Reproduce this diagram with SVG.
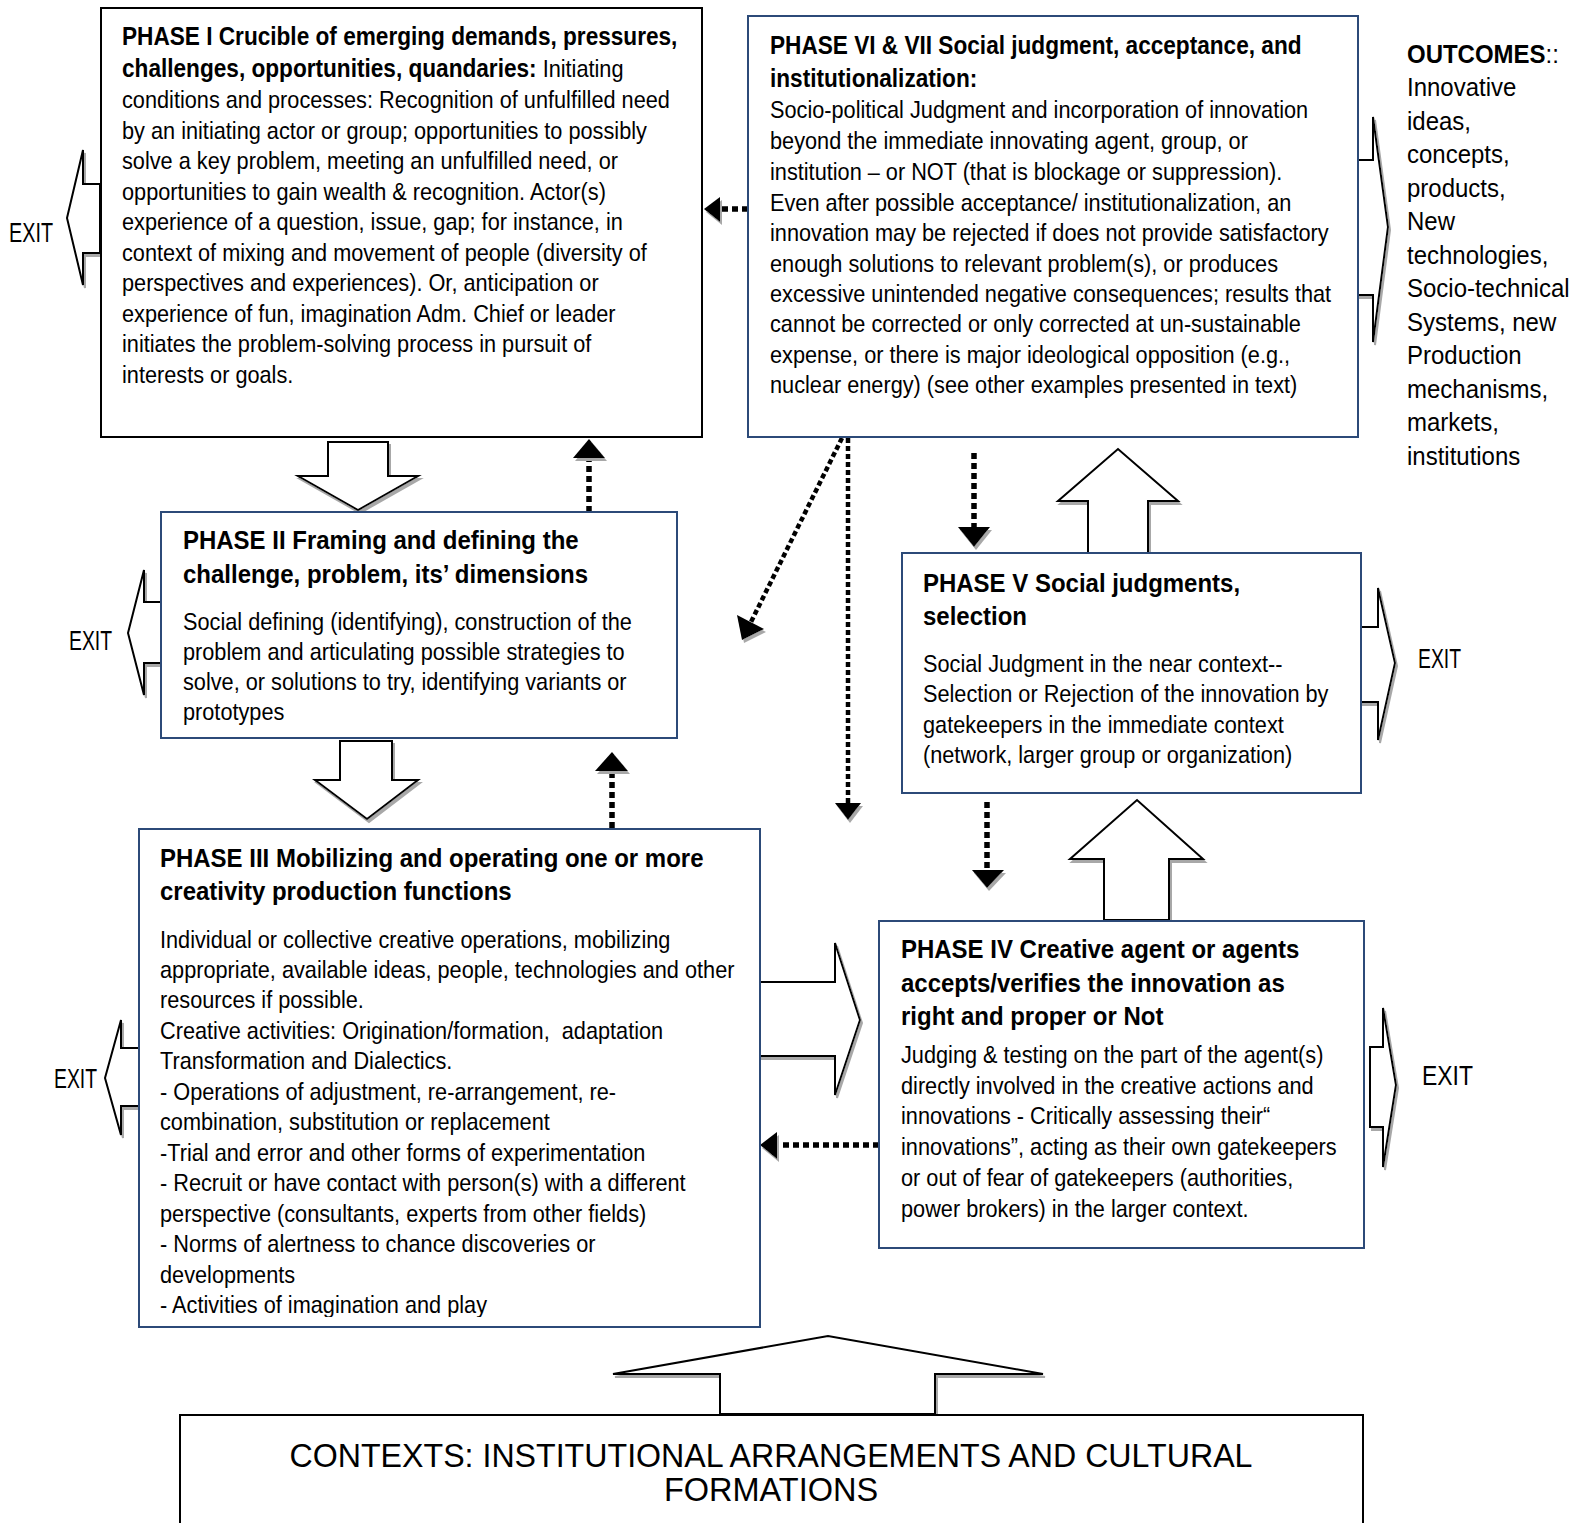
<svg xmlns="http://www.w3.org/2000/svg" width="1585" height="1523" viewBox="0 0 1585 1523">
<style>
.t{font-family:"Liberation Sans",Arial,sans-serif;font-size:24px;fill:#000;white-space:pre}
.h1{font-size:25px;font-weight:bold}
.h2{font-size:26.5px;font-weight:bold}
.o{font-size:26.5px}
.ex{font-family:"Liberation Sans",Arial,sans-serif;font-size:27px;fill:#000}
.ctx{font-family:"Liberation Sans",Arial,sans-serif;font-size:32.5px;fill:#000}
.box{fill:#fff;stroke:#2c4a78;stroke-width:2}
.bbox{fill:#fff;stroke:#000;stroke-width:2}
.blk{fill:#fff;stroke:#000;stroke-width:2;stroke-linejoin:miter;filter:url(#sh)}
.dot{fill:none;stroke:#000;stroke-width:5.5;stroke-dasharray:6 4}
.dot2{fill:none;stroke:#000;stroke-width:4.5;stroke-dasharray:5 3}
.hd{fill:#000;filter:url(#sh)}
</style>
<defs>
<filter id="sh" x="-20%" y="-20%" width="140%" height="140%">
<feDropShadow dx="2" dy="3" stdDeviation="0.6" flood-color="#a8a8a8" flood-opacity="1"/>
</filter>
<clipPath id="c3"><rect x="138" y="829" width="622" height="488"/></clipPath>
</defs>
<rect width="1585" height="1523" fill="#fff"/>

<g id="connectors">
<polygon class="blk" points="100,184 83,184 83,150 67,218 83,285 83,253 100,253"/>
<polygon class="blk" points="161,602 144,602 144,570 128,633 144,695 144,663 161,663"/>
<polygon class="blk" points="139,1048 121,1048 121,1020 105,1078 121,1135 121,1106 139,1106"/>
<polygon class="blk" points="1361,627 1378,627 1378,588 1395,663 1378,740 1378,702 1361,702"/>
<polygon class="blk" points="1370,1047 1383,1047 1383,1008 1396,1085 1383,1167 1383,1127 1370,1127"/>
<polygon class="blk" points="1358,160 1373,160 1373,117 1388,227 1373,342 1373,295 1358,295"/>
<polygon class="blk" points="328,442 388,442 388,476 418,476 358,510 298,476 328,476"/>
<polygon class="blk" points="340,741 392,741 392,780 418,780 367,819 315,780 340,780"/>
<polygon class="blk" points="1088,553 1088,501 1058,501 1118,449 1178,501 1148,501 1148,553"/>
<polygon class="blk" points="1104,920 1104,859 1070,859 1137,800 1203,859 1169,859 1169,920"/>
<polygon class="blk" points="760,982 835,982 835,943 860,1020 835,1095 835,1056 760,1056"/>
<polygon class="blk" points="720,1414 720,1374 613,1374 828,1336 1043,1374 935,1374 935,1414"/>
<line class="dot" x1="589" y1="512" x2="589" y2="458"/>
<polygon class="hd" points="573,458 605,458 589,439"/>
<line class="dot" x1="612" y1="828" x2="612" y2="771"/>
<polygon class="hd" points="595,771 628,771 612,752"/>
<line class="dot" x1="748" y1="209" x2="720" y2="209"/>
<polygon class="hd" points="720,197 720,222 704,209"/>
<line class="dot2" x1="842" y1="438" x2="751" y2="622"/>
<polygon class="hd" points="764,629 737,615 742,640"/>
<line class="dot2" x1="848" y1="438" x2="848" y2="803"/>
<polygon class="hd" points="835,803 861,803 848,820"/>
<line class="dot" x1="974" y1="453" x2="974" y2="527"/>
<polygon class="hd" points="958,527 990,527 974,547"/>
<line class="dot" x1="987" y1="802" x2="987" y2="870"/>
<polygon class="hd" points="972,870 1004,870 987,888"/>
<line class="dot" x1="879" y1="1145" x2="777" y2="1145"/>
<polygon class="hd" points="777,1132 777,1159 760,1145"/>
</g>

<g id="phase1">
<rect class="bbox" x="101" y="8" width="601" height="429"/>
<g transform="translate(122 0) scale(0.905 1)">
<text class="t h1" x="0" y="45">PHASE I Crucible of emerging demands, pressures,</text>
<text class="t" x="0" y="77"><tspan font-size="25" font-weight="bold">challenges, opportunities, quandaries:</tspan> Initiating</text>
<text class="t" x="0" y="108.5">conditions and processes: Recognition of unfulfilled need</text>
<text class="t" x="0" y="139">by an initiating actor or group; opportunities to possibly</text>
<text class="t" x="0" y="169.5">solve a key problem, meeting an unfulfilled need, or</text>
<text class="t" x="0" y="200">opportunities to gain wealth &amp; recognition. Actor(s)</text>
<text class="t" x="0" y="230.5">experience of a question, issue, gap; for instance, in</text>
<text class="t" x="0" y="261">context of mixing and movement of people (diversity of</text>
<text class="t" x="0" y="291.5">perspectives and experiences). Or, anticipation or</text>
<text class="t" x="0" y="322">experience of fun, imagination Adm. Chief or leader</text>
<text class="t" x="0" y="352.5">initiates the problem-solving process in pursuit of</text>
<text class="t" x="0" y="383">interests or goals.</text>
</g>
<text class="ex" x="9" y="242" textLength="44" lengthAdjust="spacingAndGlyphs">EXIT</text>
</g>

<g id="phase67">
<rect class="box" x="748" y="16" width="610" height="421"/>
<g transform="translate(770 0) scale(0.905 1)">
<text class="t h1" x="0" y="54">PHASE VI &amp; VII Social judgment, acceptance, and</text>
<text class="t h1" x="0" y="87">institutionalization:</text>
<text class="t" x="0" y="118">Socio-political Judgment and incorporation of innovation</text>
<text class="t" x="0" y="149">beyond the immediate innovating agent, group, or</text>
<text class="t" x="0" y="180">institution – or NOT (that is blockage or suppression).</text>
<text class="t" x="0" y="211">Even after possible acceptance/ institutionalization, an</text>
<text class="t" x="0" y="241.5">innovation may be rejected if does not provide satisfactory</text>
<text class="t" x="0" y="272">enough solutions to relevant problem(s), or produces</text>
<text class="t" x="0" y="302">excessive unintended negative consequences; results that</text>
<text class="t" x="0" y="332.5">cannot be corrected or only corrected at un-sustainable</text>
<text class="t" x="0" y="363">expense, or there is major ideological opposition (e.g.,</text>
<text class="t" x="0" y="393">nuclear energy) (see other examples presented in text)</text>
</g>
</g>

<g id="outcomes">
<g transform="translate(1407 0) scale(0.905 1)">
<text class="t o" x="0" y="63"><tspan font-weight="bold">OUTCOMES</tspan>::</text>
<text class="t o" x="0" y="96.5">Innovative</text>
<text class="t o" x="0" y="130">ideas,</text>
<text class="t o" x="0" y="163.5">concepts,</text>
<text class="t o" x="0" y="197">products,</text>
<text class="t o" x="0" y="230.5">New</text>
<text class="t o" x="0" y="264">technologies,</text>
<text class="t o" x="0" y="297.5">Socio-technical</text>
<text class="t o" x="0" y="331">Systems, new</text>
<text class="t o" x="0" y="364.5">Production</text>
<text class="t o" x="0" y="398">mechanisms,</text>
<text class="t o" x="0" y="431.5">markets,</text>
<text class="t o" x="0" y="465">institutions</text>
</g>
</g>

<g id="phase2">
<rect class="box" x="161" y="512" width="516" height="226"/>
<g transform="translate(183 0) scale(0.905 1)">
<text class="t h2" x="0" y="549">PHASE II Framing and defining the</text>
<text class="t h2" x="0" y="583">challenge, problem, its’ dimensions</text>
<text class="t" x="0" y="630">Social defining (identifying), construction of the</text>
<text class="t" x="0" y="660">problem and articulating possible strategies to</text>
<text class="t" x="0" y="690">solve, or solutions to try, identifying variants or</text>
<text class="t" x="0" y="720">prototypes</text>
</g>
<text class="ex" x="69" y="650" textLength="43" lengthAdjust="spacingAndGlyphs">EXIT</text>
</g>

<g id="phase5">
<rect class="box" x="902" y="553" width="459" height="240"/>
<g transform="translate(923 0) scale(0.905 1)">
<text class="t h2" x="0" y="592">PHASE V Social judgments,</text>
<text class="t h2" x="0" y="625">selection</text>
<text class="t" x="0" y="672">Social Judgment in the near context--</text>
<text class="t" x="0" y="702.5">Selection or Rejection of the innovation by</text>
<text class="t" x="0" y="733">gatekeepers in the immediate context</text>
<text class="t" x="0" y="763">(network, larger group or organization)</text>
</g>
<text class="ex" x="1418" y="668" textLength="43" lengthAdjust="spacingAndGlyphs">EXIT</text>
</g>

<g id="phase3">
<rect class="box" x="139" y="829" width="621" height="498"/>
<g clip-path="url(#c3)">
<g transform="translate(160 0) scale(0.905 1)">
<text class="t h2" x="0" y="867">PHASE III Mobilizing and operating one or more</text>
<text class="t h2" x="0" y="900">creativity production functions</text>
<text class="t" x="0" y="948">Individual or collective creative operations, mobilizing</text>
<text class="t" x="0" y="978">appropriate, available ideas, people, technologies and other</text>
<text class="t" x="0" y="1008.5">resources if possible.</text>
<text class="t" x="0" y="1039">Creative activities: Origination/formation,  adaptation</text>
<text class="t" x="0" y="1069.5">Transformation and Dialectics.</text>
<text class="t" x="0" y="1100">- Operations of adjustment, re-arrangement, re-</text>
<text class="t" x="0" y="1130.5">combination, substitution or replacement</text>
<text class="t" x="0" y="1161">-Trial and error and other forms of experimentation</text>
<text class="t" x="0" y="1191.5">- Recruit or have contact with person(s) with a different</text>
<text class="t" x="0" y="1222">perspective (consultants, experts from other fields)</text>
<text class="t" x="0" y="1252.5">- Norms of alertness to chance discoveries or</text>
<text class="t" x="0" y="1283">developments</text>
<text class="t" x="0" y="1313.5">- Activities of imagination and play</text>
</g>
</g>
<text class="ex" x="54" y="1088" textLength="43" lengthAdjust="spacingAndGlyphs">EXIT</text>
</g>

<g id="phase4">
<rect class="box" x="879" y="921" width="485" height="327"/>
<g transform="translate(901 0) scale(0.905 1)">
<text class="t h2" x="0" y="958">PHASE IV Creative agent or agents</text>
<text class="t h2" x="0" y="992">accepts/verifies the innovation as</text>
<text class="t h2" x="0" y="1025">right and proper or Not</text>
<text class="t" x="0" y="1063">Judging &amp; testing on the part of the agent(s)</text>
<text class="t" x="0" y="1094">directly involved in the creative actions and</text>
<text class="t" x="0" y="1124.5">innovations - Critically assessing their“</text>
<text class="t" x="0" y="1155">innovations”, acting as their own gatekeepers</text>
<text class="t" x="0" y="1186">or out of fear of gatekeepers (authorities,</text>
<text class="t" x="0" y="1216.5">power brokers) in the larger context.</text>
</g>
<text class="ex" x="1422" y="1085" textLength="51" lengthAdjust="spacingAndGlyphs">EXIT</text>
</g>

<g id="contexts">
<rect class="bbox" x="180" y="1415" width="1183" height="120"/>
<text class="ctx" x="771" y="1467" text-anchor="middle" textLength="963" lengthAdjust="spacingAndGlyphs">CONTEXTS: INSTITUTIONAL ARRANGEMENTS AND CULTURAL</text>
<text class="ctx" x="771" y="1501" text-anchor="middle">FORMATIONS</text>
</g>
</svg>
